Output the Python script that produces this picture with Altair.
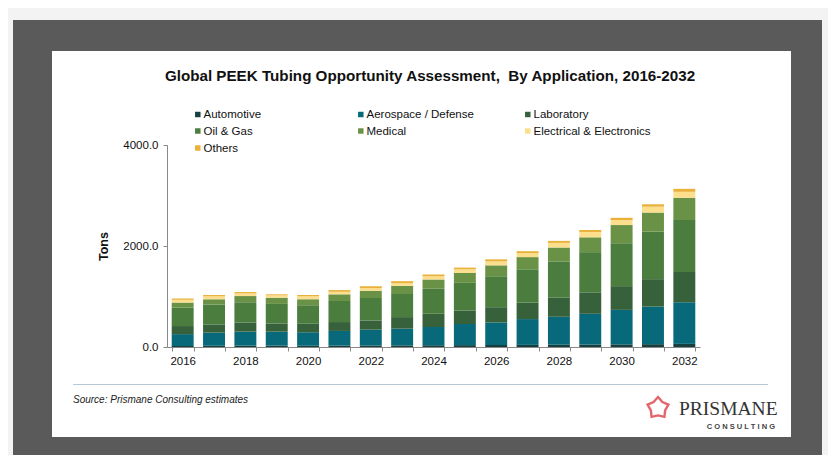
import altair as alt
import pandas as pd

years = list(range(2016, 2033))
categories = ["Automotive", "Aerospace / Defense", "Laboratory", "Oil & Gas",
              "Medical", "Electrical & Electronics", "Others"]
colors = ["#173f3f", "#07697a", "#37613a", "#4b7d3e", "#6a9246", "#fcdf8d", "#e9b03a"]

automotive = [20, 25, 28, 28, 25, 28, 30, 32, 35, 37, 40, 42, 45, 48, 52, 56, 62]
aerospace = [235, 259, 276, 276, 265, 290, 313, 331, 361, 418, 446, 511, 553, 609, 683, 744, 824]
laboratory = [160, 163, 182, 162, 171, 176, 182, 229, 261, 266, 302, 325, 378, 425, 470, 543, 600]
oil_gas = [365, 392, 400, 387, 366, 417, 445, 457, 495, 549, 613, 661, 719, 796, 849, 940, 1027]
medical = [100, 106, 123, 123, 118, 132, 143, 162, 185, 196, 216, 241, 275, 294, 361, 379, 443]
electrical = [55, 59, 53, 47, 59, 51, 53, 53, 64, 73, 78, 78, 92, 106, 98, 117, 117]
others = [25, 25, 26, 20, 25, 33, 37, 39, 34, 33, 40, 39, 39, 39, 45, 47, 59]

series = [automotive, aerospace, laboratory, oil_gas, medical, electrical, others]

y_ticks = [0, 2000, 4000]
title_text = "Global PEEK Tubing Opportunity Assessment,\u00a0 By Application, 2016-2032"
source_text = "Source: Prismane Consulting estimates"

rows = []
for ci, (cat, vals) in enumerate(zip(categories, series)):
    for yr, v in zip(years, vals):
        rows.append({"Year": str(yr), "Application": cat, "Tons": v, "idx": ci})
df = pd.DataFrame(rows)

one = pd.DataFrame({"a": [0]})
FONT = "Liberation Sans"
STAR = ("M0,-1L0.40,-0.55L0.951,-0.309L0.65,0.21L0.588,0.809L0,0.68"
        "L-0.588,0.809L-0.65,0.21L-0.951,-0.309L-0.40,-0.55Z")

dark = alt.Chart(one).mark_rect(color="#5a5a5a").encode(
    x=alt.value(-154), x2=alt.value(655), y=alt.value(-125), y2=alt.value(318))
white = alt.Chart(one).mark_rect(color="#ffffff").encode(
    x=alt.value(-115), x2=alt.value(624), y=alt.value(-94), y2=alt.value(292))
sep = alt.Chart(one).mark_rule(color="#b8c7d6", strokeWidth=1).encode(
    x=alt.value(-94), x2=alt.value(601), y=alt.value(239.5))
title = alt.Chart(one).mark_text(font=FONT, fontSize=15.2, fontWeight="bold", color="#111111",
                                  align="center", baseline="middle").encode(
    x=alt.value(263), y=alt.value(-69), text=alt.value(title_text))
source = alt.Chart(one).mark_text(font=FONT, fontSize=10, fontStyle="italic", color="#222222",
                                   align="left", baseline="middle").encode(
    x=alt.value(-94), y=alt.value(255), text=alt.value(source_text))
star = alt.Chart(one).mark_point(shape=STAR, filled=False, stroke="#d8262c", strokeWidth=2.4,
                                 size=480).encode(x=alt.value(491), y=alt.value(263))
brand = alt.Chart(one).mark_text(font="Liberation Serif", fontSize=19.5, color="#333333",
                                  align="left", baseline="alphabetic").encode(
    x=alt.value(512), y=alt.value(270), text=alt.value("PRISMANE"))
brand2 = alt.Chart(one).mark_text(font=FONT, fontSize=7.5, fontWeight="bold", color="#444444",
                                   align="right", baseline="middle").encode(
    x=alt.value(608), y=alt.value(282), text=alt.value("C O N S U L T I N G"))

# manual legend (3 columns, row-major like the reference)
col_left = [28, 191, 358]
row_mid = [-30.5, -14, 3]
legend_layers = []
for i, (cat, col) in enumerate(zip(categories, colors)):
    lx = col_left[i % 3]
    ly = row_mid[i // 3]
    legend_layers.append(
        alt.Chart(one).mark_square(color=col, opacity=1, size=30).encode(
            x=alt.value(lx + 2.8), y=alt.value(ly)))
    legend_layers.append(
        alt.Chart(one).mark_text(font=FONT, fontSize=11.5, color="#111111",
                                 align="left", baseline="middle").encode(
            x=alt.value(lx + 8.5), y=alt.value(ly + 0.5), text=alt.value(cat)))

bars = alt.Chart(df).mark_bar().encode(
    x=alt.X("Year:O", sort=[str(y) for y in years],
            scale=alt.Scale(paddingInner=0.3, paddingOuter=0.15),
            axis=alt.Axis(title=None, labelAngle=0, tickBand="extent", tickSize=4, zindex=1,
                          labelExpr="toNumber(datum.value) % 2 == 0 ? datum.value : ''",
                          labelFont=FONT, labelFontSize=11.5, labelColor="#111111",
                          labelPadding=4, domainColor="#888888", tickColor="#888888")),
    y=alt.Y("sum(Tons):Q", stack="zero",
            scale=alt.Scale(domain=[0, 4000]),
            axis=alt.Axis(title="Tons", values=y_ticks, format=".1f", grid=False, tickSize=4,
                          zindex=1,
                          labelFont=FONT, labelFontSize=11.5, labelColor="#111111", labelPadding=5,
                          titleFont=FONT, titleFontSize=12.5, titleFontWeight="bold",
                          titleColor="#111111", titlePadding=12,
                          domainColor="#888888", tickColor="#888888")),
    color=alt.Color("Application:N",
                    scale=alt.Scale(domain=categories, range=colors),
                    legend=None),
    order=alt.Order("idx:Q", sort="ascending"),
)

chart = alt.layer(dark, white, sep, title, source, star, brand, brand2, *legend_layers,
                  bars).properties(
    width=533, height=202,
    padding={"left": 159, "top": 137, "right": 128, "bottom": 108},
    autosize="none",
).configure(background="#f3f3f3").configure_view(strokeWidth=0)

chart.save("out.html", embed_options={"renderer": "svg", "actions": False})
